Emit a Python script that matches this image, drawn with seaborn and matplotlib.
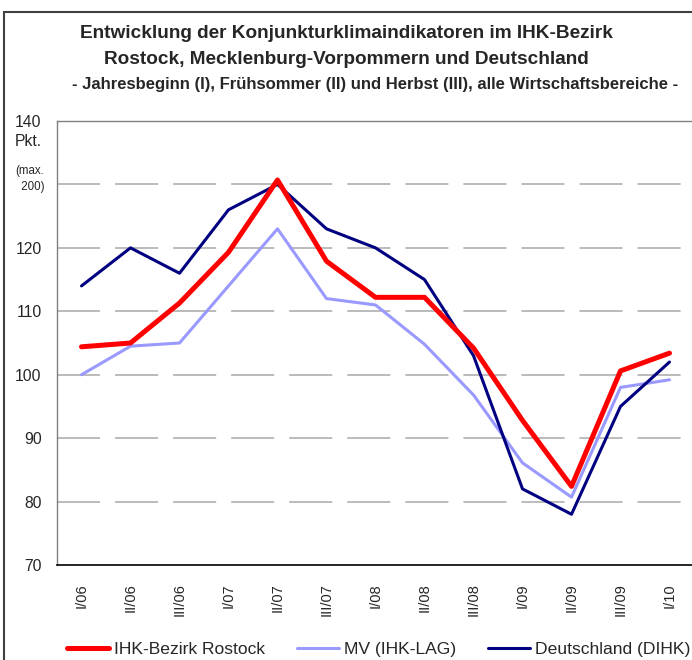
import numpy as np
import pandas as pd
import matplotlib
matplotlib.use('Agg')
import matplotlib.pyplot as plt
import seaborn as sns
from matplotlib.patches import Rectangle

sns.set_style('white')
plt.rcParams['font.family'] = ['Liberation Sans', 'DejaVu Sans']
plt.rcParams['lines.scale_dashes'] = False

# Daten
quartale = ['I/06', 'II/06', 'III/06', 'I/07', 'II/07', 'III/07', 'I/08',
            'II/08', 'III/08', 'I/09', 'II/09', 'III/09', 'I/10']
rostock = [104.4, 105.0, 111.3, 119.3, 130.7, 117.9, 112.2, 112.2, 104.2, 92.8, 82.4, 100.6, 103.4]
mv = [100.0, 104.5, 105.0, 114.0, 123.0, 112.0, 111.0, 104.8, 96.8, 86.1, 80.7, 98.0, 99.2]
deutschland = [114.0, 120.0, 116.0, 126.0, 130.0, 123.0, 120.0, 115.0, 103.0, 82.0, 78.0, 95.0, 102.0]
y_ticks = [70, 80, 90, 100, 110, 120, 130, 140]
y_labels = ['70', '80', '90', '100', '110', '120', '', '140']

df = pd.DataFrame({'Quartal': quartale, 'Rostock': rostock, 'MV': mv, 'DE': deutschland})
df['pos'] = np.arange(len(quartale))

fig = plt.figure(figsize=(6.92, 6.60), dpi=100)
ax = fig.add_axes([57 / 692, 1 - 565 / 660, 637 / 692, 444 / 660])

# Reihenfolge beim Zeichnen: hell, dunkel, rot oben
sns.lineplot(data=df, x='pos', y='MV', color='#9999FF', linewidth=2.2, ax=ax, label='MV (IHK-LAG)')
sns.lineplot(data=df, x='pos', y='DE', color='#000080', linewidth=2.2, ax=ax, label='Deutschland (DIHK)')
sns.lineplot(data=df, x='pos', y='Rostock', color='#FF0000', linewidth=3.6, ax=ax, label='IHK-Bezirk Rostock')
ax.get_legend().remove()

ax.set_xlim(-0.5, len(quartale) - 0.5)
ax.set_ylim(70, 140)
ax.set_xlabel('')
ax.set_ylabel('')

# Gitternetz
ax.set_yticks(y_ticks)
ax.set_yticklabels(y_labels, fontsize=11.3)
ax.tick_params(axis='y', length=0, pad=11)
for v in y_ticks[1:-1]:
    ax.axhline(v, color='#a8a8a8', linewidth=1.1, linestyle=(0, (31, 10.8)), zorder=0)

# x-Achse: Striche zwischen den Kategorien, Beschriftung in der Mitte
ax.set_xticks(np.arange(len(quartale)) - 0.5)
ax.set_xticklabels([])
ax.tick_params(axis='x', which='major', length=5, width=1, color='black', direction='out')
ax.set_xticks(np.arange(len(quartale)), minor=True)
ax.set_xticklabels(quartale, minor=True, rotation=90, fontsize=10.5)
ax.tick_params(axis='x', which='minor', length=0, pad=13)

for s in ['left', 'top']:
    ax.spines[s].set_color('#808080')
    ax.spines[s].set_linewidth(1)
ax.spines['right'].set_visible(False)
ax.spines['bottom'].set_color('black')
ax.spines['bottom'].set_linewidth(1.2)

# Einheit
fig.text(42 / 692, 1 - 142 / 660, 'Pkt.', ha='right', va='center', fontsize=11.3)
fig.text(44 / 692, 1 - 179 / 660, '(max.\n 200)', ha='right', va='center', fontsize=8.3, linespacing=1.4)

# Titel
fig.text(346 / 692, 1 - 34 / 660, 'Entwicklung der Konjunkturklimaindikatoren im IHK-Bezirk',
         ha='center', va='center', fontsize=13.7, fontweight='bold')
fig.text(346 / 692, 1 - 60 / 660, 'Rostock, Mecklenburg-Vorpommern und Deutschland',
         ha='center', va='center', fontsize=13.7, fontweight='bold')
fig.text(375 / 692, 1 - 84 / 660,
         '- Jahresbeginn (I), Frühsommer (II) und Herbst (III), alle Wirtschaftsbereiche -',
         ha='center', va='center', fontsize=12.0, fontweight='bold')

# Legende
handles = [ax.lines[2], ax.lines[0], ax.lines[1]]
fig.legend(handles, ['IHK-Bezirk Rostock', 'MV (IHK-LAG)', 'Deutschland (DIHK)'],
           loc='center left', bbox_to_anchor=(67 / 692, 1 - 649 / 660), ncol=3, frameon=False,
           fontsize=12.6, handlelength=2.4, handletextpad=0.3, columnspacing=1.8, borderpad=0,
           borderaxespad=0)

# Rahmen
fig.add_artist(Rectangle((4 / 692, -0.1), 1.2, 1.1 - 12 / 660, transform=fig.transFigure,
                         fill=False, edgecolor='#404040', linewidth=1.5))

fig.savefig('out.png', dpi=100)
